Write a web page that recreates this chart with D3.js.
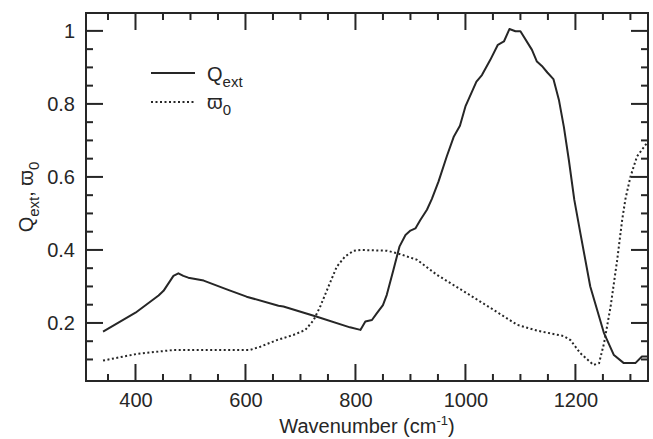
<!DOCTYPE html>
<html>
<head>
<meta charset="utf-8">
<script src="https://cdn.jsdelivr.net/npm/d3@7"></script>
<style>
  body { margin: 0; background: #fff; }
  svg { display: block; font-family: "Liberation Sans", Arial, Helvetica, sans-serif; }
</style>
</head>
<body>
<div id="chart"></div>
<script>
// Q_ext curve (wavenumber, value)
const qext_wn  = [341, 400, 442, 451, 469, 478, 487, 496, 524, 566, 602, 660, 669, 730, 790, 809, 818, 830, 839, 850, 857, 869, 880, 891, 900, 909, 918, 930, 939, 951, 966, 979, 990, 1000, 1020, 1030, 1045, 1059, 1070, 1080, 1091, 1100, 1121, 1130, 1139, 1149, 1160, 1170, 1179, 1188, 1198, 1209, 1227, 1252, 1270, 1288, 1309, 1321, 1332];
const qext_val = [0.176, 0.228, 0.275, 0.288, 0.329, 0.336, 0.329, 0.324, 0.316, 0.292, 0.272, 0.247, 0.245, 0.217, 0.188, 0.181, 0.204, 0.208, 0.227, 0.249, 0.277, 0.345, 0.409, 0.441, 0.453, 0.459, 0.482, 0.51, 0.54, 0.587, 0.656, 0.711, 0.74, 0.793, 0.861, 0.879, 0.92, 0.962, 0.971, 1.005, 0.999, 0.999, 0.948, 0.916, 0.904, 0.886, 0.868, 0.811, 0.737, 0.647, 0.537, 0.446, 0.3, 0.172, 0.112, 0.09, 0.09, 0.108, 0.108];

// single scattering albedo curve
const omega_wn  = [341, 402, 469, 536, 608, 627, 657, 687, 709, 724, 736, 751, 766, 781, 797, 809, 857, 876, 912, 948, 1003, 1051, 1094, 1130, 1179, 1191, 1209, 1233, 1243, 1252, 1264, 1276, 1285, 1291, 1300, 1312, 1332];
const omega_val = [0.097, 0.115, 0.126, 0.126, 0.126, 0.135, 0.153, 0.167, 0.181, 0.208, 0.245, 0.3, 0.354, 0.382, 0.398, 0.4, 0.398, 0.391, 0.373, 0.332, 0.281, 0.236, 0.195, 0.179, 0.164, 0.153, 0.117, 0.085, 0.09, 0.144, 0.245, 0.373, 0.482, 0.54, 0.6, 0.656, 0.697];

const x_major = [400, 600, 800, 1000, 1200];
const x_minor = [350, 450, 500, 550, 650, 700, 750, 850, 900, 950, 1050, 1100, 1150, 1250, 1300];
const y_major = [0.2, 0.4, 0.6, 0.8, 1];
const y_minor = [0.1, 0.15, 0.25, 0.3, 0.35, 0.45, 0.5, 0.55, 0.65, 0.7, 0.75, 0.85, 0.9, 0.95];

const chart_width = 653, chart_height = 439;
const margin = {top: 13, right: 5, bottom: 58, left: 86};
const ink = "#262626";

const x = d3.scaleLinear().domain([310, 1332]).range([margin.left, chart_width - margin.right]);
const y = d3.scaleLinear().domain([0.041, 1.049]).range([chart_height - margin.bottom, margin.top]);

const plot_bottom = y.range()[0], plot_top = y.range()[1];
const plot_left = x.range()[0], plot_right = x.range()[1];

const svg = d3.create("svg")
    .attr("width", chart_width)
    .attr("height", chart_height)
    .attr("viewBox", [0, 0, chart_width, chart_height]);

// frame
svg.append("path")
    .attr("d", `M${plot_left},${plot_top}H${plot_right}V${plot_bottom}H${plot_left}Z`)
    .attr("fill", "none")
    .attr("stroke", ink)
    .attr("stroke-width", 2);

// tick labels through d3 axes
svg.append("g").attr("transform", `translate(0,${plot_bottom})`)
    .call(d3.axisBottom(x).tickValues(x_major).tickSize(0).tickPadding(12).tickFormat(d3.format("d")))
    .call(g => g.select(".domain").remove())
    .call(g => g.selectAll("text").attr("fill", ink).attr("font-size", 20));

svg.append("g").attr("transform", `translate(${plot_left},0)`)
    .call(d3.axisLeft(y).tickValues(y_major).tickSize(0).tickPadding(11).tickFormat(d3.format("~g")))
    .call(g => g.select(".domain").remove())
    .call(g => g.selectAll("text").attr("fill", ink).attr("font-size", 20));

// tick marks on all four sides, pointing inward, as thin filled rects
const tick_g = svg.append("g").attr("fill", ink);
const x_ticks = x_major.map(v => [v, 17]).concat(x_minor.map(v => [v, 7]));
const y_ticks = y_major.map(v => [v, 17]).concat(y_minor.map(v => [v, 7]));

tick_g.selectAll(".xb").data(x_ticks).join("rect").attr("class", "xb")
    .attr("x", d => x(d[0]) - 1).attr("width", 2)
    .attr("y", d => plot_bottom - d[1]).attr("height", d => d[1]);
tick_g.selectAll(".xt").data(x_ticks).join("rect").attr("class", "xt")
    .attr("x", d => x(d[0]) - 1).attr("width", 2)
    .attr("y", plot_top).attr("height", d => d[1]);
tick_g.selectAll(".yl").data(y_ticks).join("rect").attr("class", "yl")
    .attr("y", d => y(d[0]) - 1).attr("height", 2)
    .attr("x", plot_left).attr("width", d => d[1]);
tick_g.selectAll(".yr").data(y_ticks).join("rect").attr("class", "yr")
    .attr("y", d => y(d[0]) - 1).attr("height", 2)
    .attr("x", d => plot_right - d[1]).attr("width", d => d[1]);

const line = d3.line().x(d => x(d[0])).y(d => y(d[1]));

svg.append("path")
    .datum(d3.zip(qext_wn, qext_val))
    .attr("fill", "none")
    .attr("stroke", ink)
    .attr("stroke-width", 2)
    .attr("stroke-linejoin", "round")
    .attr("d", line);

svg.append("path")
    .datum(d3.zip(omega_wn, omega_val))
    .attr("fill", "none")
    .attr("stroke", ink)
    .attr("stroke-width", 2)
    .attr("stroke-dasharray", "2,2.5")
    .attr("d", line);

// legend
const legend = svg.append("g").attr("fill", ink);
legend.append("line").attr("x1", 151).attr("x2", 195).attr("y1", 73).attr("y2", 73)
    .attr("stroke", ink).attr("stroke-width", 2);
legend.append("line").attr("x1", 151).attr("x2", 195).attr("y1", 102).attr("y2", 102)
    .attr("stroke", ink).attr("stroke-width", 2).attr("stroke-dasharray", "2,2.5");
const lq = legend.append("text").attr("x", 207).attr("y", 81).attr("font-size", 20);
lq.append("tspan").text("Q");
lq.append("tspan").attr("font-size", 15).attr("dy", 6).text("ext");
const lw = legend.append("text").attr("x", 207).attr("y", 109).attr("font-size", 20);
lw.append("tspan").text("ϖ");
lw.append("tspan").attr("font-size", 15).attr("dy", 6).text("0");

// axis titles
const xt = svg.append("text")
    .attr("x", (plot_left + plot_right) / 2)
    .attr("y", 433)
    .attr("text-anchor", "middle")
    .attr("font-size", 20)
    .attr("fill", ink);
xt.append("tspan").text("Wavenumber (cm");
xt.append("tspan").attr("font-size", 13).attr("dy", -8).text("-1");
xt.append("tspan").attr("dy", 8).text(")");

const yt = svg.append("text")
    .attr("transform", `translate(33,${(plot_top + plot_bottom) / 2}) rotate(-90)`)
    .attr("text-anchor", "middle")
    .attr("font-size", 20)
    .attr("fill", ink);
yt.append("tspan").text("Q");
yt.append("tspan").attr("font-size", 15).attr("dy", 6).text("ext");
yt.append("tspan").attr("dy", -6).text(", ϖ");
yt.append("tspan").attr("font-size", 15).attr("dy", 6).text("0");

document.getElementById("chart").append(svg.node());
</script>
</body>
</html>
